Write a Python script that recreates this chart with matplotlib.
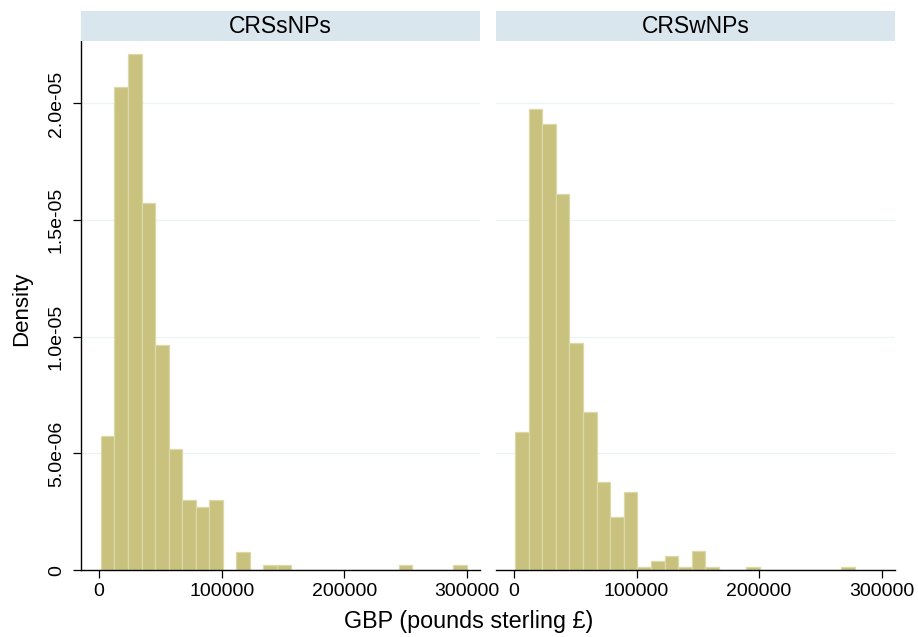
import numpy as np
import matplotlib
matplotlib.use("Agg")
import matplotlib.pyplot as plt

plt.rcParams["font.family"] = ["Liberation Sans", "DejaVu Sans"]

# histogram data (density per bin)
panels = ["CRSsNPs", "CRSwNPs"]

sn_bin_start = 1400
sn_bin_width = 11060
sn_density = [5.75e-6, 20.7e-6, 22.1e-6, 15.72e-6, 9.64e-6, 5.21e-6, 3.0e-6,
              2.7e-6, 3.0e-6, 0, 0.78e-6, 0, 0.225e-6, 0.225e-6, 0, 0, 0, 0,
              0, 0, 0, 0, 0.225e-6, 0, 0, 0, 0.225e-6]

wn_bin_start = 800
wn_bin_width = 11100
wn_density = [5.92e-6, 19.74e-6, 19.1e-6, 16.1e-6, 9.73e-6, 6.77e-6, 3.78e-6,
              2.28e-6, 3.35e-6, 0.15e-6, 0.375e-6, 0.585e-6, 0.15e-6, 0.8e-6,
              0.15e-6, 0, 0, 0.15e-6, 0, 0, 0, 0, 0, 0, 0.15e-6]

x_ticks = [0, 100000, 200000, 300000]
y_ticks = [0, 5e-6, 1e-5, 1.5e-5, 2e-5]
y_tick_labels = ["0", "5.0e-06", "1.0e-05", "1.5e-05", "2.0e-05"]

BAR = "#C8C27E"
EDGE = "#DCD8A8"
STRIP = "#D9E6ED"
GRID = "#EDF3F4"

fig = plt.figure(figsize=(9.18, 6.37), dpi=100)

axes_left = [0.088, 0.540]
ax_w, ax_b, ax_h = 0.435, 0.105, 0.8305

series = [(sn_bin_start, sn_bin_width, sn_density),
          (wn_bin_start, wn_bin_width, wn_density)]

for i, (name, (start, width, dens)) in enumerate(zip(panels, series)):
    ax = fig.add_axes([axes_left[i], ax_b, ax_w, ax_h])
    edges = start + width * np.arange(len(dens))
    ax.bar(edges, dens, width=width, align="edge", color=BAR,
           edgecolor=EDGE, linewidth=0.9, zorder=2)

    ax.set_xlim(-15000, 311000)
    ax.set_ylim(0, 2.267e-5)
    ax.set_xticks(x_ticks)
    ax.set_xticklabels([str(t) for t in x_ticks], fontsize=14)
    ax.set_yticks(y_ticks)
    for y in y_ticks[1:]:
        ax.axhline(y, color=GRID, linewidth=0.9, zorder=1)

    for s in ["top", "right"]:
        ax.spines[s].set_visible(False)
    ax.spines["bottom"].set_linewidth(1.0)
    ax.tick_params(axis="x", direction="out", length=5.5, width=0.9, pad=4)

    if i == 0:
        ax.set_yticklabels(y_tick_labels, fontsize=14, rotation=90, va="center")
        ax.tick_params(axis="y", direction="out", length=5.5, width=0.9, pad=6)
        ax.spines["left"].set_linewidth(1.0)
    else:
        ax.spines["left"].set_visible(False)
        ax.tick_params(axis="y", left=False, labelleft=False)

    # facet header strip
    strip = fig.add_axes([axes_left[i], 0.9356, ax_w, 0.047])
    strip.set_facecolor(STRIP)
    strip.set_xticks([])
    strip.set_yticks([])
    for s in strip.spines.values():
        s.set_visible(False)
    strip.text(0.5, 0.48, name, ha="center", va="center", fontsize=16.5,
               transform=strip.transAxes)

fig.text(22 / 918, 0.515, "Density", rotation=90, ha="center", va="center",
         fontsize=16)
fig.text(0.511, 0.0145, "GBP (pounds sterling £)", ha="center",
         va="baseline", fontsize=16.8)

fig.savefig("out.png", dpi=100)
